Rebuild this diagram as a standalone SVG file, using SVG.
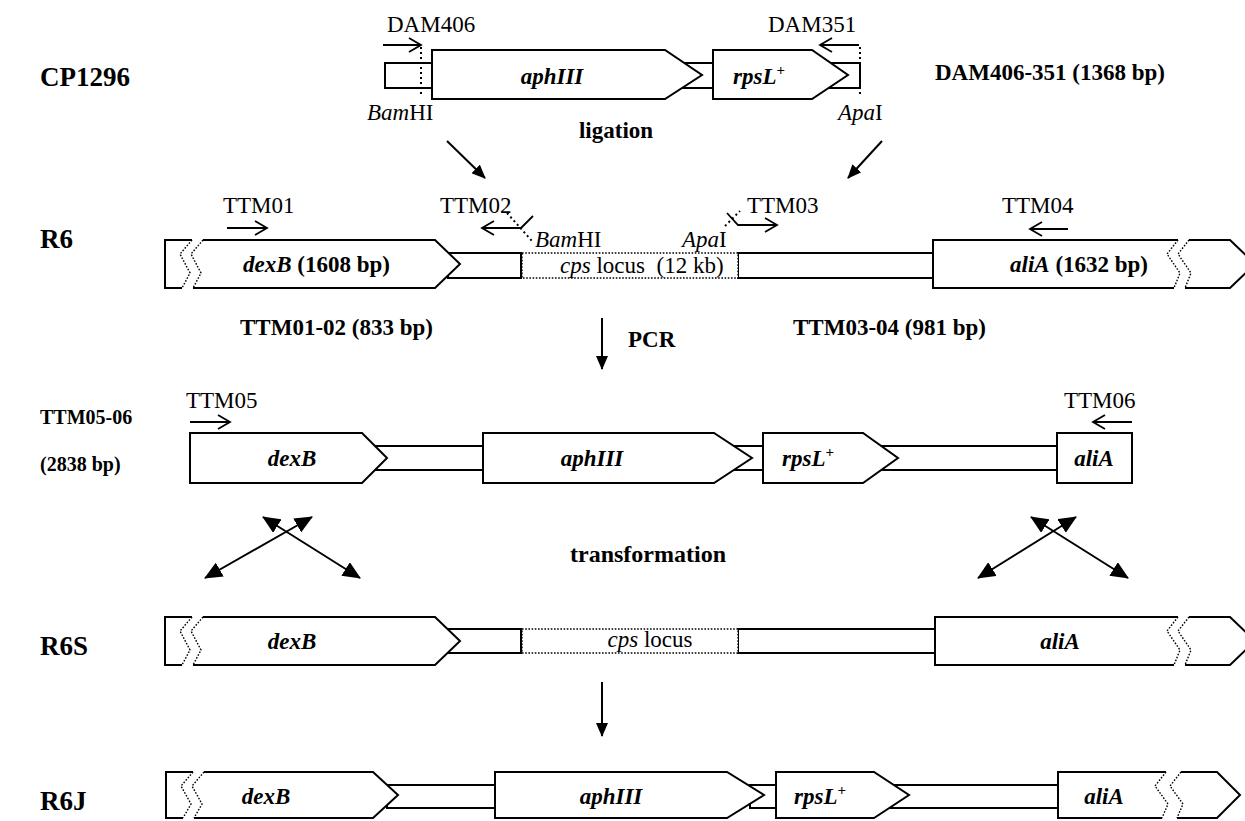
<svg xmlns="http://www.w3.org/2000/svg" width="1245" height="821" viewBox="0 0 1245 821">
<defs>
<style>
text{font-family:"Liberation Serif","Times New Roman",serif;fill:#000}
.lab{font-size:27px;font-weight:bold}
.b{font-size:23px;font-weight:bold}
.p{font-size:23px}
.g{font-size:23px;font-weight:bold;font-style:italic}
.n{font-style:normal}
.box{fill:#fff;stroke:#000;stroke-width:2}
.sl{fill:none;stroke:#000;stroke-width:2}
.dz{fill:none;stroke:#000;stroke-width:1.4;stroke-dasharray:1.6 1.6}
.pr{fill:none;stroke:#000;stroke-width:1.8}
.dot{fill:none;stroke:#000;stroke-width:2;stroke-dasharray:2 3}
.ar{fill:none;stroke:#000;stroke-width:2}
</style>
<marker id="ah" markerWidth="14" markerHeight="12" refX="13" refY="6" orient="auto-start-reverse" markerUnits="userSpaceOnUse"><path d="M0,0 L14,6 L0,12 z" fill="#000"/></marker>
<marker id="ah2" markerWidth="18" markerHeight="16" refX="17" refY="8" orient="auto-start-reverse" markerUnits="userSpaceOnUse"><path d="M0,0 L18,8 L0,16 z" fill="#000"/></marker>
</defs>

<!-- Row labels -->
<g id="labels">
<text class="lab" x="40" y="86">CP1296</text>
<text class="lab" x="40" y="248">R6</text>
<text class="b" x="40" y="424" style="font-size:20px">TTM05-06</text>
<text class="b" x="40" y="471" style="font-size:20px">(2838 bp)</text>
<text class="lab" x="40" y="655">R6S</text>
<text class="lab" x="40" y="810">R6J</text>
</g>

<!-- CP1296 -->
<g id="cp1296">
<rect class="box" x="385" y="63" width="47" height="25"/>
<rect class="box" x="680" y="63" width="33" height="25"/>
<rect class="box" x="830" y="63" width="30" height="25"/>
<path class="box" d="M432,50 L665,50 L702,75 L665,99 L432,99 Z"/>
<path class="box" d="M713,50 L812,50 L848,75 L812,99 L713,99 Z"/>
<line class="dot" x1="421" y1="47" x2="421" y2="96"/>
<line class="dot" x1="860" y1="47" x2="860" y2="96"/>
<text class="g" x="552" y="84" text-anchor="middle">aphIII</text>
<text class="g" x="759" y="84" text-anchor="middle">rpsL<tspan class="n" dy="-9" font-size="15">+</tspan></text>
<text class="p" x="387" y="32">DAM406</text>
<path class="pr" d="M383,45 L421,45 M409,38 L421,45 L409,52"/>
<text class="p" x="768" y="32">DAM351</text>
<path class="pr" d="M859,45 L820,45 M832,38 L820,45 L832,52"/>
<text class="p" x="367" y="120"><tspan font-style="italic">Bam</tspan>HI</text>
<text class="p" x="838" y="120"><tspan font-style="italic">Apa</tspan>I</text>
<text class="b" x="935" y="80">DAM406-351 (1368 bp)</text>
</g>

<g id="ligation">
<text class="b" x="616" y="138" text-anchor="middle">ligation</text>
</g>

<!-- R6 -->
<g id="r6">
<rect class="box" x="448" y="253" width="73" height="25"/>
<rect class="box" x="738" y="253" width="197" height="25"/>
<rect x="522" y="253" width="216" height="25" fill="#fff" stroke="#000" stroke-width="1.4" stroke-dasharray="1.6 1.6"/>
<path fill="#fff" stroke="none" d="M165,240 L192,240 L180,254 L190,273 L182,288 L165,288 Z"/>
<path class="sl" d="M192,240 L165,240 L165,288 L182,288"/>
<path class="dz" d="M192,240 L180,254 L190,273 L182,288"/>
<path fill="#fff" stroke="none" d="M203,240 L435,240 L460,264 L435,288 L193,288 L201,273 L191,254 Z"/>
<path class="sl" d="M203,240 L435,240 L460,264 L435,288 L193,288"/>
<path class="dz" d="M203,240 L191,254 L201,273 L193,288"/>
<path fill="#fff" stroke="none" d="M933,240 L1178,240 L1167,254 L1180,273 L1174,288 L933,288 Z"/>
<path class="sl" d="M1178,240 L933,240 L933,288 L1174,288"/>
<path class="dz" d="M1178,240 L1167,254 L1180,273 L1174,288"/>
<path fill="#fff" stroke="none" d="M1189,240 L1230,240 L1255,264 L1230,288 L1185,288 L1191,273 L1178,254 Z"/>
<path class="sl" d="M1189,240 L1230,240 L1255,264 L1230,288 L1185,288"/>
<path class="dz" d="M1189,240 L1178,254 L1191,273 L1185,288"/>
<text class="g" x="243" y="272">dexB<tspan class="n"> (1608 bp)</tspan></text>
<text class="p" x="560" y="273" xml:space="preserve"><tspan font-style="italic">cps</tspan> locus  (12 kb)</text>
<text class="g" x="1010" y="272">aliA<tspan class="n"> (1632 bp)</tspan></text>
<text class="p" x="223" y="213">TTM01</text>
<path class="pr" d="M227,228 L267,228 M255,221 L267,228 L255,235"/>
<text class="p" x="440" y="213">TTM02</text>
<path class="pr" d="M521,228 L482,228 M494,221 L482,228 L494,235 M521,228 L533,216"/>
<line class="dot" x1="507" y1="213" x2="532" y2="241" stroke-width="1.6"/>
<text class="p" x="535" y="247"><tspan font-style="italic">Bam</tspan>HI</text>
<text class="p" x="682" y="247"><tspan font-style="italic">Apa</tspan>I</text>
<text class="p" x="747" y="213">TTM03</text>
<path class="pr" d="M727,213 L738,225 L777,225 M765,218 L777,225 L765,232"/>
<line class="dot" x1="725" y1="226" x2="740" y2="211" stroke-width="1.6"/>
<text class="p" x="1002" y="213">TTM04</text>
<path class="pr" d="M1068,229 L1030,229 M1042,222 L1030,229 L1042,236"/>
<text class="b" x="240" y="335">TTM01-02 (833 bp)</text>
<text class="b" x="793" y="335">TTM03-04 (981 bp)</text>
</g>

<g id="pcr">
<text class="b" x="628" y="347">PCR</text>
</g>

<!-- TTM05-06 -->
<g id="ttm0506">
<rect class="box" x="375" y="446" width="108" height="24"/>
<rect class="box" x="725" y="446" width="38" height="24"/>
<rect class="box" x="850" y="446" width="207" height="24"/>
<path class="box" d="M190,433 L362,433 L387,458 L362,483 L190,483 Z"/>
<path class="box" d="M483,433 L714,433 L752,458 L714,483 L483,483 Z"/>
<path class="box" d="M763,433 L863,433 L898,458 L863,483 L763,483 Z"/>
<rect class="box" x="1057" y="433" width="75" height="50"/>
<text class="g" x="292" y="466" text-anchor="middle">dexB</text>
<text class="g" x="592" y="466" text-anchor="middle">aphIII</text>
<text class="g" x="808" y="466" text-anchor="middle">rpsL<tspan class="n" dy="-9" font-size="15">+</tspan></text>
<text class="g" x="1094" y="466" text-anchor="middle">aliA</text>
<text class="p" x="186" y="408">TTM05</text>
<path class="pr" d="M190,422 L230,422 M218,415 L230,422 L218,429"/>
<text class="p" x="1064" y="408">TTM06</text>
<path class="pr" d="M1132,422 L1093,422 M1105,415 L1093,422 L1105,429"/>
</g>

<g id="transformation">
<text class="b" x="648" y="562" text-anchor="middle" style="font-size:24px">transformation</text>
</g>

<!-- R6S -->
<g id="r6s">
<rect class="box" x="448" y="629" width="73" height="24"/>
<rect class="box" x="738" y="629" width="197" height="24"/>
<rect x="522" y="629" width="216" height="24" fill="#fff" stroke="#000" stroke-width="1.4" stroke-dasharray="1.6 1.6"/>
<path fill="#fff" stroke="none" d="M165,617 L192,617 L180,631 L190,650 L182,665 L165,665 Z"/>
<path class="sl" d="M192,617 L165,617 L165,665 L182,665"/>
<path class="dz" d="M192,617 L180,631 L190,650 L182,665"/>
<path fill="#fff" stroke="none" d="M203,617 L435,617 L460,641 L435,665 L193,665 L201,650 L191,631 Z"/>
<path class="sl" d="M203,617 L435,617 L460,641 L435,665 L193,665"/>
<path class="dz" d="M203,617 L191,631 L201,650 L193,665"/>
<path fill="#fff" stroke="none" d="M935,617 L1178,617 L1167,631 L1180,650 L1174,665 L935,665 Z"/>
<path class="sl" d="M1178,617 L935,617 L935,665 L1174,665"/>
<path class="dz" d="M1178,617 L1167,631 L1180,650 L1174,665"/>
<path fill="#fff" stroke="none" d="M1189,617 L1230,617 L1255,641 L1230,665 L1185,665 L1191,650 L1178,631 Z"/>
<path class="sl" d="M1189,617 L1230,617 L1255,641 L1230,665 L1185,665"/>
<path class="dz" d="M1189,617 L1178,631 L1191,650 L1185,665"/>
<text class="g" x="292" y="649" text-anchor="middle">dexB</text>
<text class="p" x="650" y="647" text-anchor="middle" font-size="20"><tspan font-style="italic">cps</tspan> locus</text>
<text class="g" x="1060" y="649" text-anchor="middle">aliA</text>
</g>

<!-- R6J -->
<g id="r6j">
<rect class="box" x="387" y="785" width="108" height="23"/>
<rect class="box" x="750" y="785" width="26" height="23"/>
<rect class="box" x="890" y="785" width="168" height="23"/>
<path fill="#fff" stroke="none" d="M166,772 L193,772 L181,786 L191,804 L183,818 L166,818 Z"/>
<path class="sl" d="M193,772 L166,772 L166,818 L183,818"/>
<path class="dz" d="M193,772 L181,786 L191,804 L183,818"/>
<path fill="#fff" stroke="none" d="M204,772 L373,772 L398,795 L373,818 L194,818 L202,804 L192,786 Z"/>
<path class="sl" d="M204,772 L373,772 L398,795 L373,818 L194,818"/>
<path class="dz" d="M204,772 L192,786 L202,804 L194,818"/>
<path class="box" d="M495,772 L727,772 L764,795 L727,818 L495,818 Z"/>
<path class="box" d="M776,772 L874,772 L909,795 L874,818 L776,818 Z"/>
<path fill="#fff" stroke="none" d="M1058,772 L1166,772 L1155,786 L1168,804 L1162,818 L1058,818 Z"/>
<path class="sl" d="M1166,772 L1058,772 L1058,818 L1162,818"/>
<path class="dz" d="M1166,772 L1155,786 L1168,804 L1162,818"/>
<path fill="#fff" stroke="none" d="M1181,772 L1217,772 L1240,795 L1217,818 L1177,818 L1183,804 L1170,786 Z"/>
<path class="sl" d="M1181,772 L1217,772 L1240,795 L1217,818 L1177,818"/>
<path class="dz" d="M1181,772 L1170,786 L1183,804 L1177,818"/>
<text class="g" x="266" y="804" text-anchor="middle">dexB</text>
<text class="g" x="611" y="804" text-anchor="middle">aphIII</text>
<text class="g" x="820" y="804" text-anchor="middle">rpsL<tspan class="n" dy="-9" font-size="15">+</tspan></text>
<text class="g" x="1104" y="804" text-anchor="middle">aliA</text>
</g>

<!-- connectors -->
<g id="connectors">
<line class="ar" x1="447" y1="141" x2="485" y2="178" marker-end="url(#ah)"/>
<line class="ar" x1="882" y1="141" x2="848" y2="178" marker-end="url(#ah)"/>
<line class="ar" x1="602" y1="318" x2="602" y2="369" marker-end="url(#ah)"/>
<line class="ar" x1="602" y1="682" x2="602" y2="736" marker-end="url(#ah)"/>
<line class="ar" x1="205" y1="578" x2="312" y2="517" marker-start="url(#ah2)" marker-end="url(#ah2)"/>
<line class="ar" x1="263" y1="517" x2="360" y2="578" marker-start="url(#ah2)" marker-end="url(#ah2)"/>
<line class="ar" x1="978" y1="578" x2="1076" y2="517" marker-start="url(#ah2)" marker-end="url(#ah2)"/>
<line class="ar" x1="1031" y1="517" x2="1128" y2="578" marker-start="url(#ah2)" marker-end="url(#ah2)"/>
</g>
</svg>
